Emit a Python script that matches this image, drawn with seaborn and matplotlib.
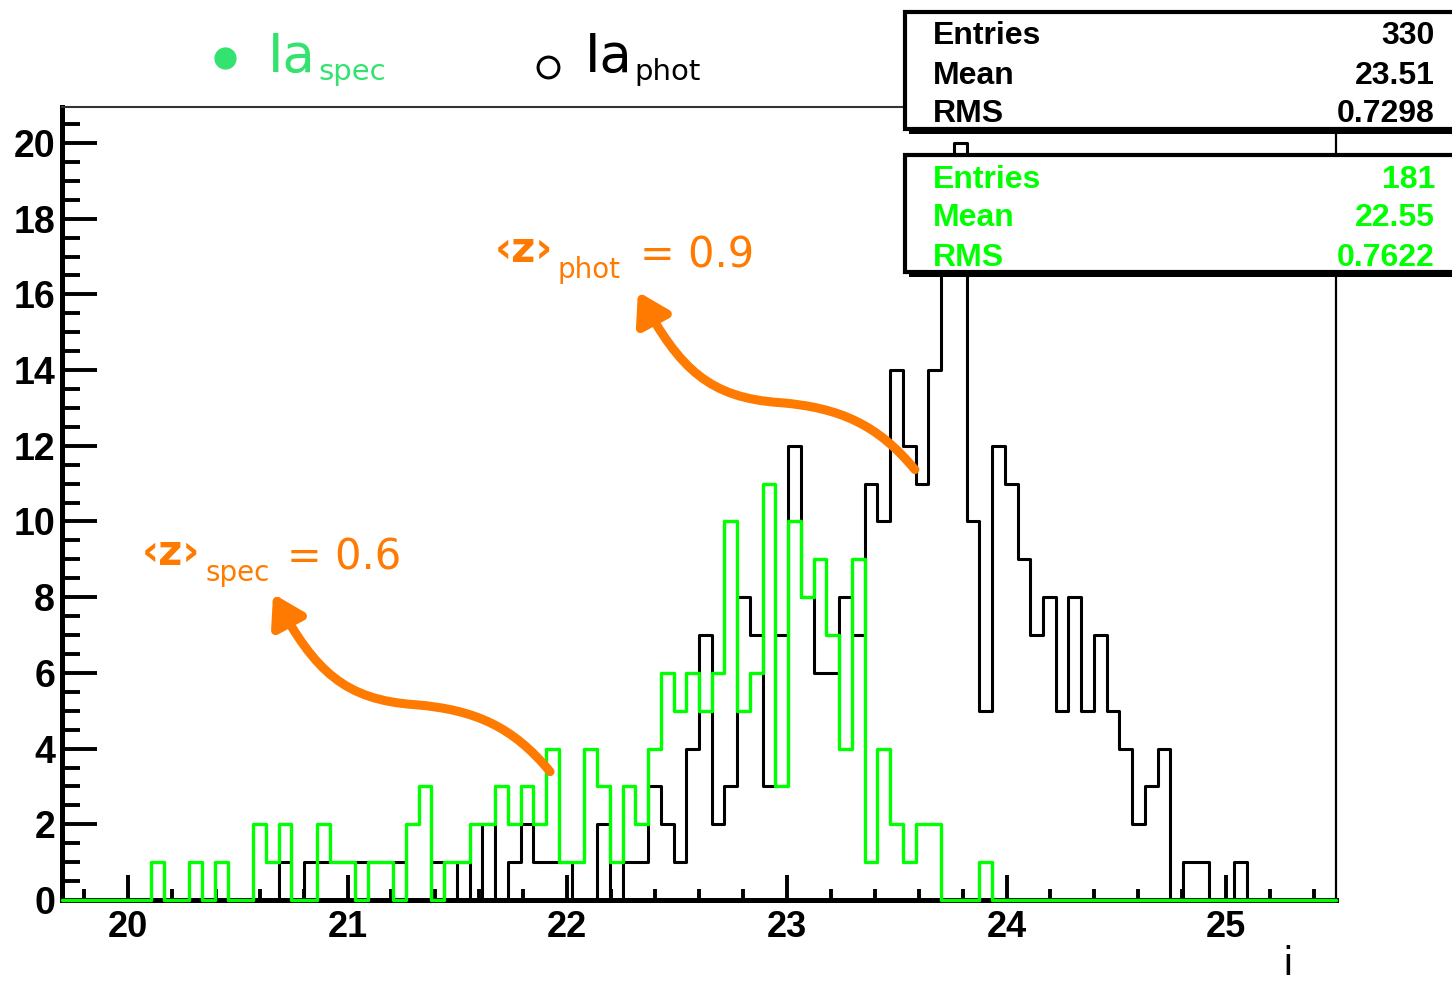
import numpy as np
import pandas as pd
import matplotlib
matplotlib.use("Agg")
import matplotlib.pyplot as plt
import seaborn as sns
from matplotlib.path import Path
from matplotlib.patches import FancyArrowPatch, Rectangle
from matplotlib.lines import Line2D
from matplotlib.ticker import MultipleLocator

# ---- data -------------------------------------------------------------
x_lo, x_hi, n_bins = 19.7, 25.5, 100

phot_counts = [
    0, 0, 0, 0, 0, 0, 0, 0, 0, 0,
    0, 0, 0, 0, 0, 0, 0, 1, 0, 1,
    1, 1, 1, 1, 1, 1, 1, 0, 0, 1,
    0, 1, 0, 2, 0, 1, 2, 1, 1, 1,
    0, 0, 2, 0, 1, 1, 3, 2, 1, 4,
    7, 2, 3, 8, 7, 3, 7, 12, 8, 6,
    6, 8, 7, 11, 10, 14, 12, 11, 14, 17,
    20, 10, 5, 12, 11, 9, 7, 8, 5, 8,
    5, 7, 5, 4, 2, 3, 4, 0, 1, 1,
    0, 0, 1, 0, 0, 0, 0, 0, 0, 0,
]
spec_counts = [
    0, 0, 0, 0, 0, 0, 0, 1, 0, 0,
    1, 0, 1, 0, 0, 2, 1, 2, 0, 0,
    2, 1, 1, 0, 1, 1, 0, 2, 3, 0,
    1, 1, 2, 2, 3, 2, 3, 2, 4, 1,
    1, 4, 3, 1, 3, 2, 4, 6, 5, 6,
    5, 6, 10, 5, 6, 11, 3, 10, 8, 9,
    7, 4, 9, 1, 4, 2, 1, 2, 2, 0,
    0, 0, 1, 0, 0, 0, 0, 0, 0, 0,
    0, 0, 0, 0, 0, 0, 0, 0, 0, 0,
    0, 0, 0, 0, 0, 0, 0, 0, 0, 0,
]

stat_names = ["Entries", "Mean", "RMS"]
phot_stats = ["330", "23.51", "0.7298"]
spec_stats = ["181", "22.55", "0.7622"]

x_ticks = [20, 21, 22, 23, 24, 25]
y_ticks = [0, 2, 4, 6, 8, 10, 12, 14, 16, 18, 20]

z_phot_label = "= 0.9"
z_spec_label = "= 0.6"

# curved pointer from the photometric peak to its redshift label (data units)
arrow_phot = [(23.583, 11.37), (23.414, 12.56), (23.241, 13.01), (22.968, 13.14),
              (22.650, 13.27), (22.513, 14.01), (22.322, 16.07)]
arrow_spec_shift = (-1.661, -7.98)

# ---- styling ----------------------------------------------------------
W, H = 1452, 983
GREEN = "#00ff00"
LEG_GREEN = "#33e26f"
ORANGE = "#ff7a00"
BOLD = "Liberation Sans"

sns.set_theme(style="white")
plt.rcParams["font.family"] = ["DejaVu Sans"]


def fx(px):
    return px / W


def fy(py):
    return 1 - py / H


fig = plt.figure(figsize=(W / 100, H / 100), dpi=100)
ax = fig.add_axes([fx(62), fy(900), (1336 - 62) / W, (900 - 107) / H])

edges = np.linspace(x_lo, x_hi, n_bins + 1)
centers = 0.5 * (edges[:-1] + edges[1:])
hist_df = pd.DataFrame({"i": centers, "phot": phot_counts, "spec": spec_counts})

sns.histplot(data=hist_df, x="i", weights="phot", bins=list(edges), element="step",
             fill=False, color="black", linewidth=2.2, ax=ax)
sns.histplot(data=hist_df, x="i", weights="spec", bins=list(edges), element="step",
             fill=False, color=GREEN, linewidth=2.4, ax=ax)
for i, ln in enumerate(ax.lines):
    ln.set_clip_on(False)
    ln.set_zorder(3 + i)
for p in ax.patches:
    p.set_clip_on(False)
    p.set_zorder(3)

ax.set_xlim(x_lo, x_hi)
ax.set_ylim(0, 20.95)
ax.set_xlabel("")
ax.set_ylabel("")

ax.set_xticks(x_ticks)
ax.set_yticks(y_ticks)
ax.xaxis.set_minor_locator(MultipleLocator(0.2))
ax.yaxis.set_minor_locator(MultipleLocator(0.5))
ax.tick_params(bottom=True, left=True, top=False, right=False,
               which="both", direction="in", colors="black", width=2.8)
ax.tick_params(axis="y", which="major", length=25, pad=5, labelsize=27)
ax.tick_params(axis="y", which="minor", length=13)
ax.tick_params(axis="x", which="major", length=18, pad=7, labelsize=26)
ax.tick_params(axis="x", which="minor", length=8)
for lbl in ax.get_xticklabels() + ax.get_yticklabels():
    lbl.set_fontfamily(BOLD)
    lbl.set_fontweight("bold")

for side, lw, col in [("left", 3.6, "black"), ("bottom", 3.6, "black"),
                      ("top", 1.5, "#333333"), ("right", 1.6, "black")]:
    ax.spines[side].set_visible(True)
    ax.spines[side].set_linewidth(lw)
    ax.spines[side].set_color(col)

# ---- curved pointers and redshift labels -------------------------------
def pointer(points):
    codes = [Path.MOVETO] + [Path.CURVE4] * (len(points) - 1)
    arr = FancyArrowPatch(path=Path(points, codes),
                          arrowstyle="-|>,head_length=0.9,head_width=0.55",
                          mutation_scale=20, color=ORANGE, lw=6.5,
                          zorder=6, clip_on=False)
    ax.add_patch(arr)


pointer(arrow_phot)
pointer([(x + arrow_spec_shift[0], y + arrow_spec_shift[1]) for x, y in arrow_phot])

for (zx, zy), (sx, sy), (ex, ey), sub, txt in [
        ((495, 262), (558, 278), (640, 268), "phot", z_phot_label),
        ((142, 565), (205, 581), (287, 570), "spec", z_spec_label)]:
    fig.text(fx(zx), fy(zy), "\u2039z\u203a", fontsize=30, color=ORANGE,
             ha="left", va="baseline", fontweight="bold")
    fig.text(fx(sx), fy(sy), sub, fontsize=20, color=ORANGE,
             ha="left", va="baseline")
    fig.text(fx(ex), fy(ey), txt, fontsize=30, color=ORANGE,
             ha="left", va="baseline")

# ---- legend above the frame --------------------------------------------
fig.add_artist(Line2D([fx(225)], [fy(58)], marker="o", ms=15, color=LEG_GREEN,
                      transform=fig.transFigure))
fig.text(fx(268), fy(72), "Ia", fontsize=38, color=LEG_GREEN, ha="left", va="baseline")
fig.text(fx(318), fy(80), "spec", fontsize=21, color=LEG_GREEN, ha="left", va="baseline")

fig.add_artist(Line2D([fx(548)], [fy(67)], marker="o", ms=15, mfc="white",
                      mec="black", mew=2.2, transform=fig.transFigure))
fig.text(fx(585), fy(72), "Ia", fontsize=38, color="black", ha="left", va="baseline")
fig.text(fx(634), fy(80), "phot", fontsize=21, color="black", ha="left", va="baseline")

fig.text(fx(1288), fy(975), "i", fontsize=28, color="black", ha="center", va="baseline")

# ---- statistics boxes ---------------------------------------------------
def stats_box(top, bottom, values, color):
    shadow = Rectangle((fx(909), fy(bottom + 5)), (1470 - 909) / W, (bottom - top) / H,
                       transform=fig.transFigure, facecolor="black",
                       edgecolor="none", zorder=9)
    box = Rectangle((fx(905), fy(bottom)), (1470 - 905) / W, (bottom - top) / H,
                    transform=fig.transFigure, facecolor="white",
                    edgecolor="black", lw=3, zorder=10)
    fig.add_artist(shadow)
    fig.add_artist(box)
    row_h = (bottom - top) / 3
    for j, (name, val) in enumerate(zip(stat_names, values)):
        yc = top + row_h * (j + 0.5) + 5
        fig.text(fx(933), fy(yc), name, fontsize=23, fontweight="bold",
                 family=BOLD, color=color, ha="left", va="center", zorder=11)
        fig.text(fx(1435), fy(yc), val, fontsize=23, fontweight="bold",
                 family=BOLD, color=color, ha="right", va="center", zorder=11)


stats_box(12, 129, phot_stats, "black")
stats_box(155, 272, spec_stats, GREEN)

fig.savefig("out.png", dpi=100)
